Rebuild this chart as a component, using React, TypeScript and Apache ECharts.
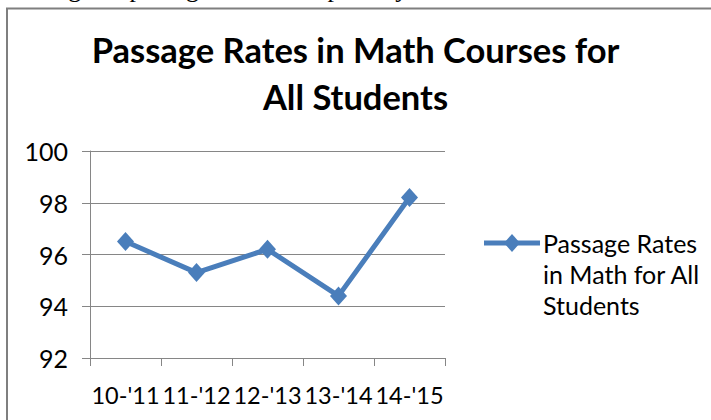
import React, { useEffect, useRef } from "react";
import * as echarts from "echarts";

const categories = ["10-'11", "11-'12", "12-'13", "13-'14", "14-'15"];
const passageRates = [96.5, 95.3, 96.2, 94.4, 98.2];
const seriesName = "Passage Rates in Math for All Students";
const legendLines = ["Passage Rates", "in Math for All", "Students"];
const titleText = "Passage Rates in Math Courses for\nAll Students";
const captionText = "highest passage rate in the past 5 years";
const yMin = 92;
const yMax = 100;
const yInterval = 2;

const BLUE = "#4A7EBB";
const GRAY = "#868686";
const FONT = "Lato, 'Open Sans', sans-serif";

export default function App() {
  const ref = useRef<HTMLDivElement>(null);

  useEffect(() => {
    if (!ref.current) return;
    const chart = echarts.init(ref.current, null, { renderer: "svg" });
    chart.setOption({
      animation: false,
      backgroundColor: "#ffffff",
      title: {
        text: titleText,
        left: "center",
        top: 21,
        textStyle: {
          fontFamily: FONT,
          fontWeight: "bold",
          fontSize: 34.5,
          lineHeight: 47,
          color: "#000000",
        },
      },
      legend: { show: false },
      grid: { left: 90, right: 266, top: 151, bottom: 62 },
      xAxis: {
        type: "category",
        data: categories,
        boundaryGap: true,
        axisLine: { show: true, lineStyle: { color: GRAY, width: 1 } },
        axisTick: { show: true, length: 8, interval: 0, lineStyle: { color: GRAY } },
        axisLabel: {
          interval: 0,
          margin: 25,
          fontFamily: FONT,
          fontSize: 23.5,
          color: "#000000",
        },
        splitLine: { show: false },
      },
      yAxis: {
        type: "value",
        min: yMin,
        max: yMax,
        interval: yInterval,
        axisLine: { show: true, lineStyle: { color: GRAY, width: 1 } },
        axisTick: { show: true, length: 8, lineStyle: { color: GRAY } },
        axisLabel: {
          margin: 22,
          fontFamily: FONT,
          fontSize: 25,
          color: "#000000",
        },
        splitLine: { show: true, lineStyle: { color: GRAY, width: 1 } },
      },
      series: [
        {
          name: seriesName,
          type: "line",
          data: passageRates,
          symbol: "diamond",
          symbolSize: [17, 19],
          lineStyle: { color: BLUE, width: 5 },
          itemStyle: { color: BLUE },
        },
      ],
      graphic: [
        {
          type: "rect",
          shape: { x: 7, y: 8.5, width: 800, height: 500 },
          style: { fill: "none", stroke: "#7f7f7f", lineWidth: 2 },
          silent: true,
        },
        {
          type: "text",
          x: 48,
          y: -12,
          style: {
            text: captionText,
            fontFamily: "'Liberation Serif', 'Times New Roman', serif",
            fontSize: 26,
            fill: "#000000",
            verticalAlign: "middle",
            align: "left",
          },
          silent: true,
        },
        {
          type: "line",
          shape: { x1: 484, y1: 243, x2: 540, y2: 243 },
          style: { stroke: BLUE, lineWidth: 5 },
          silent: true,
        },
        {
          type: "polygon",
          shape: { points: [[512, 234], [520, 243], [512, 252], [504, 243]] },
          style: { fill: BLUE },
          silent: true,
        },
        {
          type: "text",
          x: 543,
          y: 243 - 15.5,
          style: {
            text: legendLines.join("\n"),
            fontFamily: FONT,
            fontSize: 25,
            lineHeight: 31,
            fill: "#000000",
            verticalAlign: "top",
            align: "left",
          },
          silent: true,
        },
      ],
    });
    return () => chart.dispose();
  }, []);

  return (
    <div
      ref={ref}
      style={{ position: "absolute", left: 0, top: 0, width: 711, height: 420 }}
    />
  );
}
